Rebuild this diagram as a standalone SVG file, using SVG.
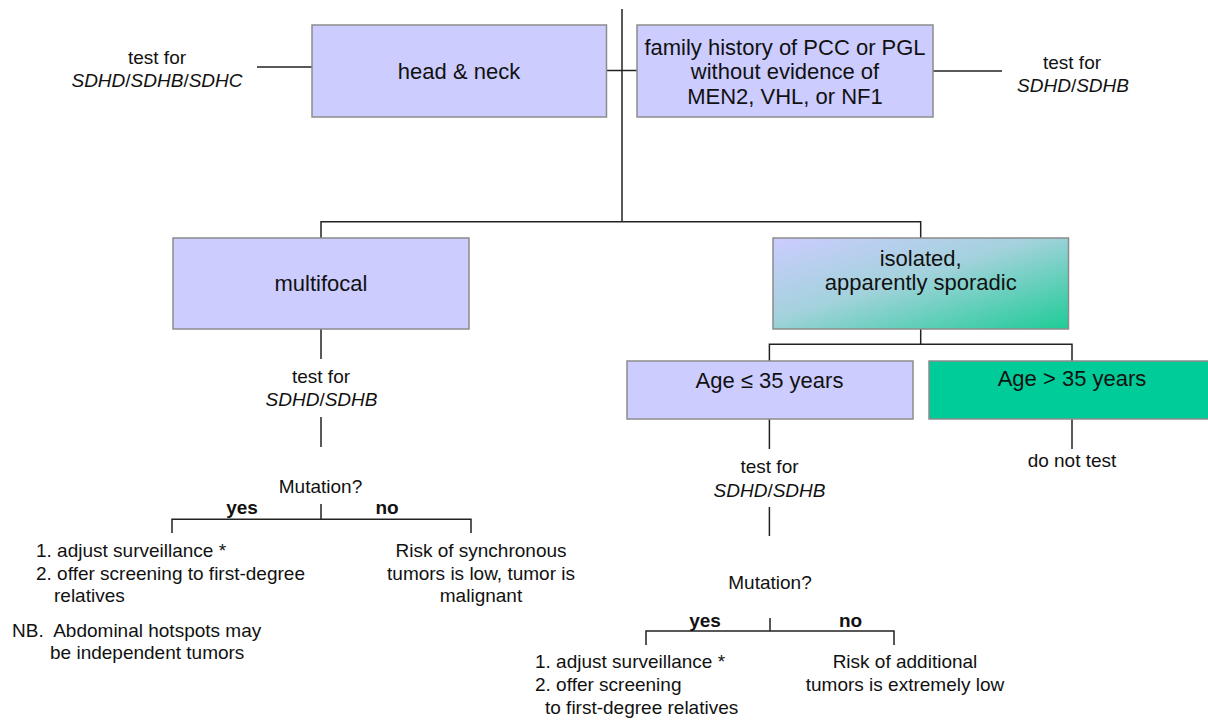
<svg xmlns="http://www.w3.org/2000/svg" width="1208" height="720" viewBox="0 0 1208 720">
<defs>
<linearGradient id="gIso" x1="0" y1="0" x2="1" y2="1">
<stop offset="0" stop-color="#CCCCFF"/>
<stop offset="0.45" stop-color="#A3D2DC"/>
<stop offset="1" stop-color="#1ECC96"/>
</linearGradient>
<style>
.box{fill:#CCCCFF;stroke:#8C8C8C;stroke-width:1.5}
.t{font-family:"Liberation Sans",Arial,sans-serif;fill:#111;text-anchor:middle}
.b{font-size:22px}
.s{font-size:19px}
.l{text-anchor:start}
.i{font-style:italic}
.bold{font-weight:bold}
.c{fill:none;stroke:#222;stroke-width:1.5}
</style>
</defs>
<g id="connectors" class="c">
<path d="M622 9V222"/>
<path d="M257 67H312"/>
<path d="M606 70.5H637"/>
<path d="M933 71H1002"/>
<path d="M321 238V221.7H920.7V238"/>
<path d="M321 329V359"/>
<path d="M321 417V447"/>
<path d="M321 504V519.3"/>
<path d="M172 533V519.3H471V533"/>
<path d="M920.7 329V344.3"/>
<path d="M769.4 361V344.3H1072V361"/>
<path d="M769.4 419V449"/>
<path d="M769.4 507V536"/>
<path d="M1072 419V449"/>
<path d="M770 618V631"/>
<path d="M646 645V631H894V645"/>
</g>
<g id="label-test-left" class="t s">
<text x="157" y="64">test for</text>
<text x="157" y="87"><tspan class="i">SDHD</tspan>/<tspan class="i">SDHB</tspan>/<tspan class="i">SDHC</tspan></text>
</g>
<g id="node-head-neck">
<rect class="box" x="312" y="25" width="294.5" height="92"/>
<text class="t b" x="459" y="79">head &amp; neck</text>
</g>
<g id="node-family">
<rect class="box" x="637" y="25" width="296" height="92"/>
<text class="t b" x="785" y="54.5">family history of PCC or PGL</text>
<text class="t b" x="785" y="79">without evidence of</text>
<text class="t b" x="785" y="104">MEN2, VHL, or NF1</text>
</g>
<g id="label-test-right" class="t s">
<text x="1072" y="68.5">test for</text>
<text x="1073" y="91.5"><tspan class="i">SDHD</tspan>/<tspan class="i">SDHB</tspan></text>
</g>
<g id="node-multifocal">
<rect class="box" x="173" y="238" width="296" height="91"/>
<text class="t b" x="321" y="291">multifocal</text>
</g>
<g id="node-isolated">
<rect x="773" y="238" width="295.5" height="91" fill="url(#gIso)" stroke="#8C8C8C" stroke-width="1.5"/>
<text class="t b" x="920.7" y="266">isolated,</text>
<text class="t b" x="920.7" y="290">apparently sporadic</text>
</g>
<g id="node-age-le35">
<rect class="box" x="627" y="361" width="286" height="58"/>
<text class="t b" x="769.5" y="388">Age ≤ 35 years</text>
</g>
<g id="node-age-gt35">
<rect x="929" y="361" width="286" height="58" fill="#00CC99" stroke="#8C8C8C" stroke-width="1.5"/>
<text class="t b" x="1072" y="386">Age &gt; 35 years</text>
</g>
<g id="left-branch" class="t s">
<text x="321" y="383.3">test for</text>
<text x="321.5" y="405.7"><tspan class="i">SDHD</tspan>/<tspan class="i">SDHB</tspan></text>
<text x="320.5" y="493.3">Mutation?</text>
<text class="bold" x="242" y="514">yes</text>
<text class="bold" x="387" y="514">no</text>
<text class="l" x="36" y="556.5">1. adjust surveillance *</text>
<text class="l" x="36" y="579.5">2. offer screening to first-degree</text>
<text class="l" x="54" y="602">relatives</text>
<text x="481" y="556.5">Risk of synchronous</text>
<text x="481" y="579.5">tumors is low, tumor is</text>
<text x="481" y="602">malignant</text>
<text class="l" x="12" y="636.5" xml:space="preserve">NB.  Abdominal hotspots may</text>
<text class="l" x="50" y="658.5">be independent tumors</text>
</g>
<g id="right-branch" class="t s">
<text x="769.5" y="472.7">test for</text>
<text x="769.5" y="496.7"><tspan class="i">SDHD</tspan>/<tspan class="i">SDHB</tspan></text>
<text x="1072" y="466.7">do not test</text>
<text x="770" y="589">Mutation?</text>
<text class="bold" x="705" y="627">yes</text>
<text class="bold" x="850.5" y="627">no</text>
<text class="l" x="535" y="668">1. adjust surveillance *</text>
<text class="l" x="535" y="691">2. offer screening</text>
<text class="l" x="545" y="714">to first-degree relatives</text>
<text x="905" y="668">Risk of additional</text>
<text x="905" y="691">tumors is extremely low</text>
</g>
</svg>
